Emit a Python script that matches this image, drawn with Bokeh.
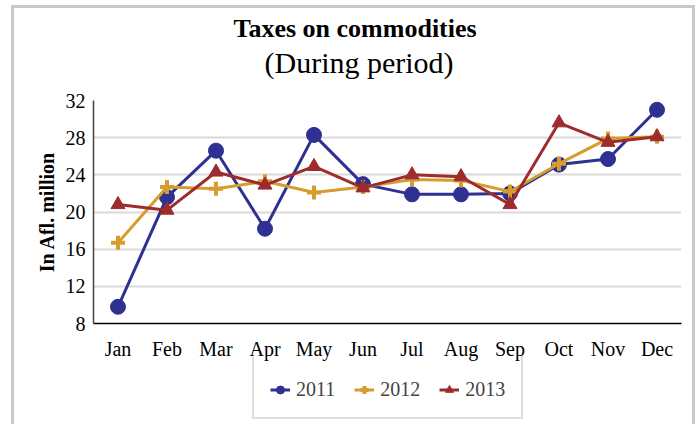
from bokeh.plotting import figure
from bokeh.layouts import column
from bokeh.models import FactorRange, Range1d, Legend, LegendItem, Title, FixedTicker
from bokeh.embed import file_html
from bokeh.resources import INLINE

months = ["Jan", "Feb", "Mar", "Apr", "May", "Jun", "Jul", "Aug", "Sep", "Oct", "Nov", "Dec"]
y2011 = [9.8, 21.6, 26.6, 18.2, 28.3, 23.0, 21.9, 21.9, 22.0, 25.1, 25.7, 31.0]
y2012 = [16.7, 22.7, 22.5, 23.3, 22.1, 22.7, 23.5, 23.4, 22.2, 25.2, 27.9, 28.1]
y2013 = [20.8, 20.2, 24.3, 22.9, 24.9, 22.6, 24.0, 23.8, 20.8, 29.6, 27.5, 28.1]
y_ticks = [8, 12, 16, 20, 24, 28, 32]
series = [("2011", y2011), ("2012", y2012), ("2013", y2013)]

FONT = "Liberation Serif"
BLUE = "#2e3192"
GOLD = "#d69c2e"
RED = "#9e2b2e"
STYLE = {"2011": (BLUE, "circle", 15), "2012": (GOLD, "cross", 14), "2013": (RED, "triangle", 14)}

W = 678

p = figure(width=W, height=354,
           x_range=FactorRange(*months, range_padding=0),
           y_range=Range1d(8, 32),
           output_backend="svg", toolbar_location=None,
           min_border_left=79, min_border_right=11,
           min_border_top=92, min_border_bottom=38)
p.outline_line_color = None

# spacing between the subtitle and the plot area
gap = Title(text=" ", text_font=FONT, text_font_size="1px", standoff=19)
p.add_layout(gap, "above")
sub = Title(text="(During period)", align="left", offset=171, text_font=FONT,
            text_font_size="30px", text_font_style="normal", standoff=0,
            text_color="#000000")
p.add_layout(sub, "above")
main = Title(text="Taxes on commodities", align="left", offset=140, text_font=FONT,
             text_font_size="26px", text_font_style="bold", standoff=2,
             text_color="#000000")
p.add_layout(main, "above")

p.xgrid.grid_line_color = None
p.ygrid.grid_line_color = "#d9d9d9"
p.ygrid.grid_line_width = 2

p.yaxis.ticker = FixedTicker(ticks=y_ticks)
p.yaxis.major_tick_line_color = None
p.yaxis.minor_tick_line_color = None
p.yaxis.axis_line_color = "#404040"
p.yaxis.axis_line_width = 1.5
p.yaxis.major_label_text_font = FONT
p.yaxis.major_label_text_font_size = "20px"
p.yaxis.major_label_text_color = "#000000"
p.yaxis.major_label_standoff = 2
p.yaxis.axis_label = "In Afl. million"
p.yaxis.axis_label_text_font = FONT
p.yaxis.axis_label_text_font_size = "20px"
p.yaxis.axis_label_text_font_style = "bold"
p.yaxis.axis_label_text_color = "#000000"
p.yaxis.axis_label_standoff = 5

p.xaxis.major_tick_line_color = None
p.xaxis.minor_tick_line_color = None
p.xaxis.axis_line_color = "#000000"
p.xaxis.axis_line_width = 1.5
p.xaxis.major_label_text_font = FONT
p.xaxis.major_label_text_font_size = "20px"
p.xaxis.major_label_text_color = "#000000"
p.xaxis.major_label_standoff = 8


def draw(fig, name, ys):
    color, marker, size = STYLE[name]
    ln = fig.line(months, ys, line_color=color, line_width=3)
    if marker == "cross":
        mk = fig.scatter(months, ys, marker=marker, size=size, line_color=color, line_width=4)
    else:
        mk = fig.scatter(months, ys, marker=marker, size=size, color=color)
    return ln, mk


for name, ys in series:
    draw(p, name, ys)

# legend strip (same series, drawn outside its visible range so only the legend shows)
lg = figure(width=W, height=68,
            x_range=FactorRange(*months, range_padding=0),
            y_range=Range1d(100, 101),
            output_backend="svg", toolbar_location=None,
            x_axis_location=None, y_axis_location=None, min_border=0,
            styles={"margin-top": "-6px"})
lg.outline_line_color = None
lg.grid.grid_line_color = None
lg.background_fill_color = None
lg.border_fill_color = None
items = []
for name, ys in series:
    ln, mk = draw(lg, name, ys)
    items.append(LegendItem(label=name, renderers=[ln, mk]))

legend = Legend(items=items, orientation="horizontal", location=(159, 5),
                title=" ", title_text_font_size="1px", title_standoff=14,
                label_text_font=FONT, label_text_font_size="20px",
                glyph_width=20, glyph_height=23, label_height=23, label_standoff=6,
                spacing=19, padding=16, margin=0,
                background_fill_alpha=0,
                border_line_color="#bfbfbf", border_line_width=2)
lg.add_layout(legend, "center")

layout = column(p, lg, spacing=0,
                styles={"border-left": "3px solid #c8c8c8",
                        "border-top": "3px solid #c8c8c8",
                        "border-right": "3px solid #c8c8c8",
                        "margin-left": "11px",
                        "margin-top": "5px"})

open("out.html", "w").write(file_html(layout, INLINE))
